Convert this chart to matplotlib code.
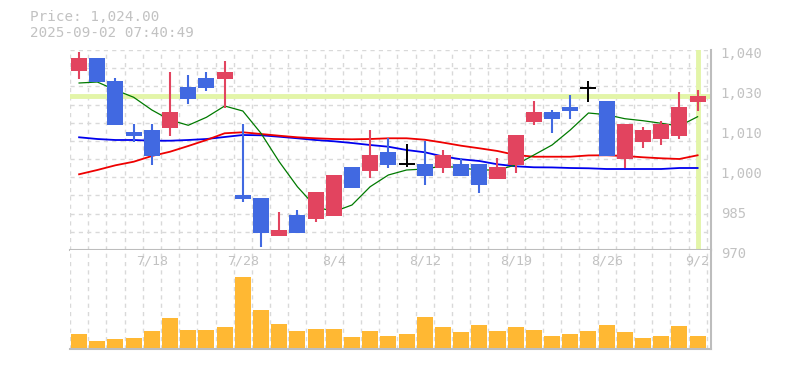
import matplotlib
matplotlib.use("Agg")
import matplotlib.pyplot as plt
import matplotlib.transforms as mtransforms
import numpy as np

# ---------------- data ----------------
dates = ["7/14", "7/15", "7/16", "7/17", "7/18", "7/22", "7/23", "7/24", "7/25",
         "7/28", "7/29", "7/30", "7/31", "8/1", "8/4", "8/5", "8/6", "8/7", "8/8",
         "8/12", "8/13", "8/14", "8/15", "8/18", "8/19", "8/20", "8/21", "8/22",
         "8/25", "8/26", "8/27", "8/28", "8/29", "9/1", "9/2"]
opens = [1032.8, 1037.3, 1029.2, 1011.3, 1012.0, 1012.8, 1027.05, 1030.2, 1030.0,
         989.25, 988.1, 975.0, 982.25, 980.85, 982.0, 999.05, 997.75, 1004.3, 1000.0,
         1000.1, 998.8, 1000.1, 1000.1, 994.85, 999.75, 1014.8, 1018.3, 1020.05,
         1026.8, 1022.15, 1001.85, 1007.9, 1008.85, 1009.9, 1021.9]
highs = [1039.3, 1037.3, 1030.1, 1014.1, 1014.1, 1032.4, 1031.25, 1032.3, 1036.15,
         1014.1, 988.1, 983.2, 984.0, 990.3, 996.25, 999.05, 1012.0, 1009.1, 1007.1,
         1008.15, 1005.0, 1002.1, 1000.1, 1002.2, 1010.25, 1022.15, 1019.0, 1024.25,
         1029.15, 1022.15, 1014.1, 1013.05, 1015.15, 1025.3, 1026.0]
lows = [1029.9, 1028.9, 1013.9, 1007.9, 999.75, 1009.9, 1021.0, 1025.8, 1019.8,
        986.9, 970.9, 975.0, 976.05, 979.9, 982.0, 991.8, 995.1, 998.8, 999.2,
        992.75, 997.05, 995.9, 990.05, 994.85, 997.05, 1013.75, 1011.05, 1015.85,
        1021.9, 1003.0, 998.8, 1005.8, 1006.75, 1008.85, 1018.65]
closes = [1037.3, 1028.9, 1013.9, 1009.9, 1003.0, 1018.3, 1023.0, 1026.8, 1032.3,
          987.85, 976.05, 977.0, 976.05, 990.3, 996.25, 991.8, 1003.25, 999.75, 1000.0,
          995.9, 1003.25, 995.9, 992.75, 999.05, 1010.25, 1018.3, 1015.85, 1018.75,
          1026.8, 1003.0, 1014.1, 1012.0, 1014.1, 1020.05, 1024.0]
volumes = [13.7, 7.0, 8.7, 10.0, 17.0, 30.0, 17.7, 17.7, 21.0, 71.0, 37.7, 24.0,
           17.0, 18.7, 18.7, 10.7, 17.0, 11.7, 13.7, 30.7, 20.7, 15.7, 22.7, 16.7,
           20.7, 17.7, 11.7, 13.7, 16.7, 22.7, 15.7, 9.7, 11.7, 21.7, 11.7]
ma_short = [1028.45, 1028.8, 1026.0, 1023.45, 1019.0, 1015.5, 1013.65, 1016.45,
            1020.4, 1018.65, 1010.85, 1000.9, 992.15, 985.15, 983.4, 985.75, 992.15,
            996.25, 998.0, 998.35, 999.4, 998.7, 998.0, 998.0, 999.75, 1003.25,
            1006.75, 1012.0, 1017.95, 1017.35, 1015.95, 1015.25, 1014.35, 1013.4, 1016.65]
ma_mid = [996.5, 998.0, 999.65, 1000.9, 1002.9, 1004.4, 1006.4, 1008.5, 1010.85,
          1011.2, 1010.6, 1010.0, 1009.45, 1009.1, 1008.85, 1008.75, 1008.85, 1009.1,
          1009.1, 1008.6, 1007.6, 1006.5, 1005.6, 1004.65, 1003.25, 1002.65, 1002.65,
          1002.65, 1003.1, 1003.15, 1002.9, 1002.45, 1002.1, 1001.85, 1003.15]
ma_long = [1009.45, 1008.85, 1008.5, 1008.5, 1008.25, 1008.25, 1008.5, 1008.85,
           1009.55, 1010.25, 1010.15, 1009.65, 1009.1, 1008.5, 1008.05, 1007.45,
           1006.75, 1006.15, 1005.0, 1004.2, 1002.75, 1001.75, 1001.15, 1000.0, 999.3,
           998.95, 998.9, 998.7, 998.6, 998.35, 998.35, 998.35, 998.35, 998.7, 998.7]
ytick_labels = ["970", "985", "1,000", "1,010", "1,030", "1,040"]
xtick_dates = ["7/18", "7/28", "8/4", "8/12", "8/19", "8/26", "9/2"]
header_price = "Price: 1,024.00"
header_time = "2025-09-02 07:40:49"

# ---------------- style ----------------
UP = "#e2445f"
DOWN = "#4169e1"
DOJI = "#000000"
VOL = "#ffb833"
HILITE = "#e3f5a8"
GRID = "#d9d9d9"
SPINE = "#bdbdbd"
TXT = "#c2c2c2"
FONT = "DejaVu Sans Mono"

W, H = 785, 370
fig = plt.figure(figsize=(W / 100, H / 100), dpi=100)
fig.patch.set_facecolor("white")

def box(l, t, r, b):
    return [l / W, 1 - b / H, (r - l) / W, (b - t) / H]

ax = fig.add_axes(box(70, 50, 710.7, 250))
axv = fig.add_axes(box(70, 250, 710.7, 349.3))

n = len(dates)
x = np.arange(n)
xlim = (-0.5, 34.72)
ymin, ymax = 970, 1040

for a in (ax, axv):
    a.set_xlim(*xlim)
    for s in ("left", "top"):
        a.spines[s].set_visible(False)
    for s in ("right", "bottom"):
        a.spines[s].set_color(SPINE)
        a.spines[s].set_linewidth(1.5)
    a.tick_params(length=0)
    a.set_xticks([])
    a.set_yticks([])
    for xv in np.arange(-0.5, n, 1.0):
        a.axvline(xv, color=GRID, lw=1, ls=(0, (3, 3)), zorder=0)

ax.set_ylim(ymin, ymax)
for yv in np.linspace(ymin, ymax, 12)[1:]:
    ax.axhline(yv, color=GRID, lw=1, ls=(0, (3, 3)), zorder=0)

# highlight lines (current price & current bar)
ax.axhline(closes[-1], color=HILITE, lw=3.5, zorder=1)
ax.axvline(x[-1], color=HILITE, lw=3.5, zorder=1)

# moving averages
ax.plot(x, ma_long, color="#0000ee", lw=1.3, zorder=2)
ax.plot(x, ma_mid, color="#ee0000", lw=1.3, zorder=2)
ax.plot(x, ma_short, color="#007a00", lw=0.9, zorder=2)

# candles
bw = 0.88
for i in range(n):
    o, h, l, c = opens[i], highs[i], lows[i], closes[i]
    if abs(c - o) < 1e-9:
        col = DOJI
        ax.vlines(x[i], l, h, color=col, lw=1.4, zorder=3)
        ax.hlines(c, x[i] - bw / 2, x[i] + bw / 2, color=col, lw=1.4, zorder=3)
        continue
    col = UP if c > o else DOWN
    ax.vlines(x[i], l, h, color=col, lw=1.5, zorder=3)
    ax.bar(x[i], abs(c - o), bottom=min(o, c), width=bw, color=col,
           edgecolor=col, lw=0, zorder=4)

# right axis labels (drawn a few pixels below their grid positions)
yt = np.linspace(ymin, ymax, 6)
lab_tr = mtransforms.offset_copy(ax.get_yaxis_transform(), fig=fig,
                                 x=10, y=-4, units="dots")
for v, lab in zip(yt, ytick_labels):
    ax.text(1.0, v, lab, transform=lab_tr, ha="left", va="center",
            fontsize=10, color=TXT, family=FONT)

# volume
axv.set_ylim(-1.3, 98.0)
axv.bar(x, volumes, width=bw, color=VOL, zorder=2)
for d in xtick_dates:
    i = dates.index(d)
    axv.text(x[i], 86.5, d, ha="center", va="center", fontsize=9.5, color=TXT,
             family=FONT, zorder=3)

# header
fig.text(30 / W, 1 - 17 / H, header_price, ha="left", va="center",
         fontsize=10.3, color=TXT, family=FONT)
fig.text(30 / W, 1 - 33 / H, header_time, ha="left", va="center",
         fontsize=10.3, color=TXT, family=FONT)

fig.savefig("out.png", dpi=100)
